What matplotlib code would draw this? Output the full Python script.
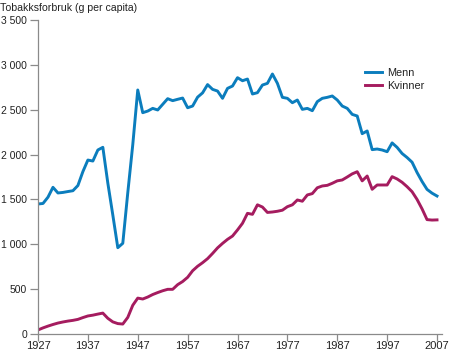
import matplotlib
matplotlib.use("Agg")
import matplotlib.pyplot as plt
from matplotlib.ticker import FuncFormatter

plt.rcParams['font.family'] = ['Liberation Sans', 'DejaVu Sans']

years = list(range(1927, 2008))

# Tobakksforbruk, gram per innbygger
menn = [
    1449, 1455, 1525, 1635, 1572, 1578, 1588, 1597, 1655, 1810,   # 1927-36
    1939, 1928, 2051, 2081, 1682, 1326, 962, 1011, 1575, 2110,    # 1937-46
    2720, 2467, 2485, 2515, 2497, 2560, 2623, 2601, 2616, 2630,   # 1947-56
    2522, 2541, 2640, 2688, 2780, 2727, 2708, 2627, 2738, 2764,   # 1957-66
    2857, 2823, 2842, 2675, 2690, 2775, 2794, 2898, 2794, 2638,   # 1967-76
    2627, 2578, 2608, 2504, 2515, 2489, 2590, 2627, 2638, 2653,   # 1977-86
    2608, 2541, 2515, 2448, 2430, 2233, 2263, 2055, 2062, 2051,   # 1987-96
    2032, 2130, 2080, 2012, 1967, 1915, 1800, 1700, 1612, 1570,   # 1997-2006
    1538,                                                          # 2007
]
kvinner = [
    45, 68, 88, 106, 122, 134, 144, 152, 163, 183,                 # 1927-36
    201, 210, 222, 233, 175, 135, 116, 111, 185, 320,             # 1937-46
    400, 390, 412, 440, 462, 482, 498, 498, 550, 585,             # 1947-56
    632, 705, 755, 795, 840, 898, 960, 1010, 1055, 1092,          # 1957-66
    1160, 1234, 1345, 1334, 1440, 1415, 1355, 1360, 1368, 1380,   # 1967-76
    1419, 1440, 1494, 1480, 1550, 1565, 1630, 1650, 1657, 1680,   # 1977-86
    1707, 1717, 1750, 1785, 1809, 1707, 1761, 1613, 1661, 1661,   # 1987-96
    1661, 1754, 1728, 1691, 1642, 1586, 1500, 1395, 1275, 1270,   # 1997-2006
    1272,                                                          # 2007
]

xticks = [1927, 1937, 1947, 1957, 1967, 1977, 1987, 1997, 2007]
yticks = [0, 500, 1000, 1500, 2000, 2500, 3000, 3500]

blue = '#0b7dbd'
red = '#a51c5f'
grey = '#8a8a8a'
txt = '#222222'

fig = plt.figure(figsize=(4.5, 3.51), dpi=100)
ax = fig.add_axes([38 / 450, 17 / 351, 404 / 450, 314 / 351])

ax.plot(years, menn, color=blue, lw=2.1, label='Menn')
ax.plot(years, kvinner, color=red, lw=2.1, label='Kvinner')

ax.set_xlim(1927, 2008)
ax.set_ylim(0, 3500)
ax.set_xticks(xticks)
ax.set_yticks(yticks)
ax.yaxis.set_major_formatter(FuncFormatter(lambda v, p: f'{int(v):,}'.replace(',', ' ')))

for s in ['top', 'right']:
    ax.spines[s].set_visible(False)
for s in ['left', 'bottom']:
    ax.spines[s].set_color(grey)
    ax.spines[s].set_linewidth(0.9)
ax.tick_params(axis='both', colors=grey, width=0.9, labelcolor=txt)
ax.tick_params(axis='y', length=6, pad=2, labelsize=7.5)
ax.tick_params(axis='x', length=5, pad=0.3, labelsize=8)

fig.text(0, 1 - 3 / 351, 'Tobakksforbruk (g per capita)', ha='left', va='top',
         fontsize=7.6, color=txt)

ax.legend(loc='upper left', bbox_to_anchor=(327 / 404, 1 - 48 / 314), frameon=False,
          fontsize=7.8, handlelength=1.55, handletextpad=0.5, labelspacing=0.3,
          borderaxespad=0, borderpad=0, labelcolor=txt)

fig.savefig('out.png', dpi=100)
